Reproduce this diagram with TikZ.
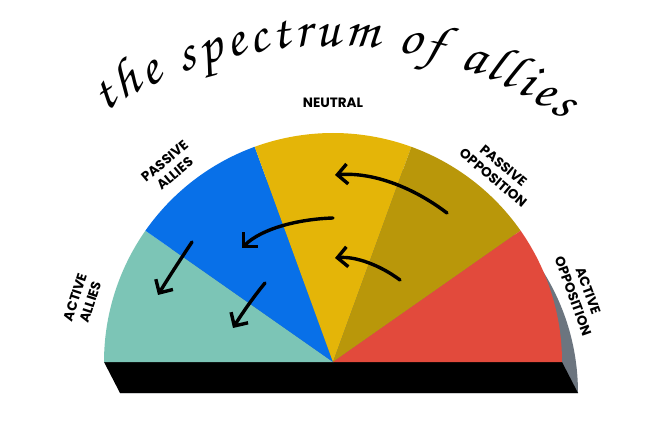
\documentclass[tikz,border=0pt]{standalone}
\usepackage{fontspec}
\usetikzlibrary{arrows.meta,decorations.text,calc}
\newfontfamily\tagfont{Poppins}
\newfontfamily\handfont{texgyrechorus-mediumitalic.otf}
\newcommand\titlefont{\handfont\fontsize{54}{54}\selectfont}
\definecolor{allyteal}{RGB}{124,197,182}
\definecolor{allyblue}{RGB}{8,112,232}
\definecolor{neutralyellow}{RGB}{228,181,8}
\definecolor{oppolive}{RGB}{185,151,10}
\definecolor{oppred}{RGB}{226,74,60}
\definecolor{sidegray}{RGB}{108,117,127}
\begin{document}
\begin{tikzpicture}
[
    x=1pt, y=1pt,
    tag/.style={font=\tagfont\bfseries\fontsize{13.5}{16}\selectfont, align=center, text=black, inner sep=1pt},
    shift arrow/.style={line width=3.4pt, line cap=round, -{Straight Barb[length=10pt, width=20pt, line width=3.4pt]}}
]
    \useasboundingbox (0,0) rectangle (648,426);
    \coordinate (ctr) at (333,64);
    \coordinate (low) at (349,33);

    % side and base
    \fill[sidegray] (low) ++(0:229) arc[start angle=0, end angle=180, radius=229] -- cycle;
    \fill[black] (104,64) -- (562,64) -- (578,33) -- (120,33) -- cycle;

    % sectors
    \foreach \from/\to/\col in {180/145/allyteal, 145/110/allyblue, 110/70/neutralyellow, 70/35/oppolive, 35/0/oppred}
        \fill[\col] (ctr) -- ++(\from:229) arc[start angle=\from, end angle=\to, radius=229] -- cycle;

    % labels
    \node[tag] (neutral) at ($(ctr)+(90:259)$) {NEUTRAL};
    \node[tag, rotate=40] (passallies) at ($(ctr)+(130:254)$) {PASSIVE\\ALLIES};
    \node[tag, rotate=-40] (passopp) at ($(ctr)+(49:252)$) {PASSIVE\\OPPOSITION};
    \node[tag, rotate=72] (actallies) at ($(ctr)+(166:258)$) {ACTIVE\\ALLIES};
    \node[tag, rotate=-70] (actopp) at ($(ctr)+(15.5:257)$) {ACTIVE\\OPPOSITION};

    % title
    \coordinate (arcctr) at (328,-31);
    \path[decorate, decoration={text along path, text align={fit to path},
        text={|\titlefont|the spectrum of allies}}]
        (arcctr) ++(123:411) arc[start angle=123, end angle=55, radius=411];

    % arrows
    \coordinate (a1s) at (447,213);
    \coordinate (a1e) at (335,251);
    \coordinate (a2s) at (400,146);
    \coordinate (a2e) at (335,168);
    \coordinate (a3s) at (333,208);
    \coordinate (a3e) at (242,178);
    \coordinate (a4s) at (192,184);
    \coordinate (a4e) at (158,131);
    \coordinate (a5s) at (265,143);
    \coordinate (a5e) at (233,98);
    \draw[shift arrow] (a1s) .. controls (410,241) and (370,254) .. (a1e);
    \draw[shift arrow] (a2s) .. controls (380,161) and (355,170) .. (a2e);
    \draw[shift arrow] (a3s) .. controls (300,207) and (262,198) .. (a3e);
    \draw[shift arrow] (a4s) .. controls (180,166) and (167,146) .. (a4e);
    \draw[shift arrow] (a5s) .. controls (255,131) and (243,114) .. (a5e);
\end{tikzpicture}
\end{document}
